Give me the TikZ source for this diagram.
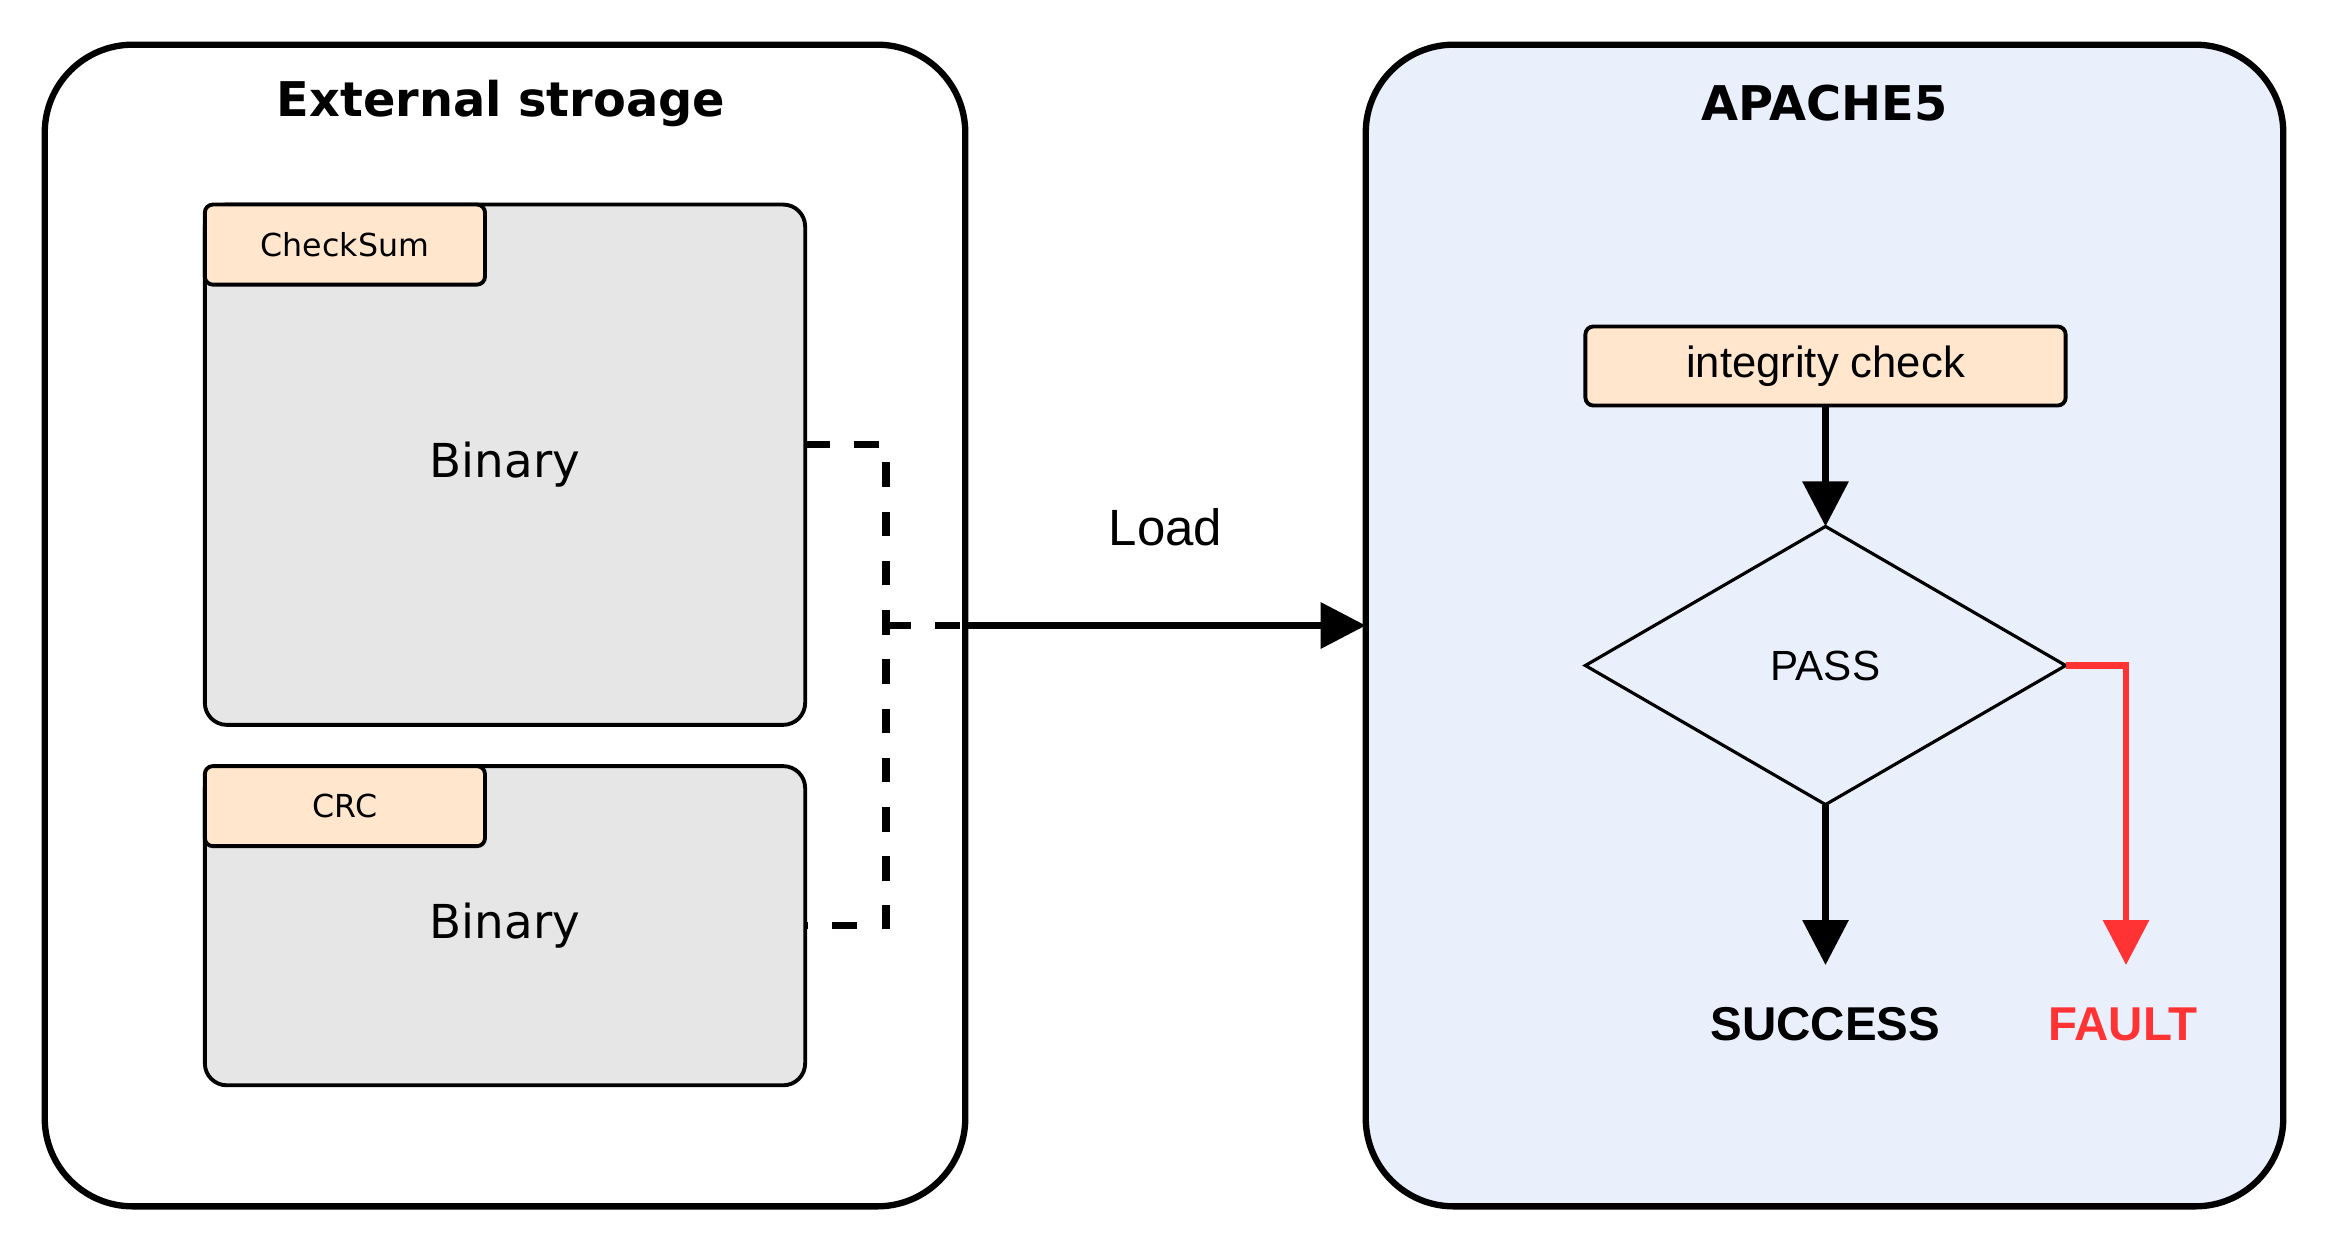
\documentclass[tikz,border=0pt]{standalone}
\usepackage{fontspec}
\setmainfont{DejaVu Sans}
\newfontfamily\arialfont{Liberation Sans}
\usetikzlibrary{arrows.meta,shapes.geometric}

\definecolor{binfill}{HTML}{E6E6E6}
\definecolor{tabfill}{HTML}{FFE6CC}
\definecolor{apachefill}{HTML}{E9F0FB}
\definecolor{faultred}{HTML}{FF3333}

\begin{document}
\begin{tikzpicture}[x=0.01cm, y=-0.01cm,
		container/.style={draw, rectangle, line width=1.8pt, rounded corners=0.88cm, minimum width=9.2cm, minimum height=11.61cm, outer sep=0pt},
		title/.style={font=\fontsize{13.6}{16}\selectfont\bfseries},
		binbox/.style={draw, rectangle, fill=binfill, line width=1.1pt, rounded corners=0.22cm, minimum width=6cm, outer sep=0pt, font=\fontsize{13.3}{16}\selectfont},
		tabbox/.style={draw, rectangle, fill=tabfill, line width=1.1pt, rounded corners=0.08cm, minimum width=2.8cm, minimum height=0.8cm, outer sep=0pt, font=\fontsize{9}{11}\selectfont},
		checkbox/.style={draw, rectangle, fill=tabfill, line width=1.1pt, rounded corners=0.08cm, minimum width=4.8cm, minimum height=0.79cm, outer sep=0pt, font=\arialfont\fontsize{12.4}{15}\selectfont},
		decision/.style={draw, diamond, line width=0.9pt, minimum width=4.8cm, minimum height=2.78cm, inner sep=0pt, outer sep=0pt, font=\arialfont\fontsize{12}{14}\selectfont},
		outcome/.style={font=\arialfont\fontsize{13.5}{16}\selectfont\bfseries},
		flow/.style={line width=1.8pt, -{Triangle[length=12.8pt,width=12.8pt]}},
		dashlink/.style={line width=2.1pt, dash pattern=on 7pt off 7pt}]
				\useasboundingbox (0,0) rectangle (2328,1248);
				
				% External storage side
				\node (storage) [container] at (505,625.5) {};
				\node (storagetitle) [title] at (501,103.5) {External stroage};
				\node (bin1) [binbox, minimum height=5.2cm] at (505,464.7) {Binary};
				\node (checksum) [tabbox, anchor=north west] at (bin1.north west) {CheckSum};
				\node (bin2) [binbox, minimum height=3.19cm] at (505,925.7) {Binary};
				\node (crc) [tabbox, anchor=north west] at (bin2.north west) {CRC};
				
				% APACHE5 side
				\node (apache) [container, fill=apachefill, minimum width=9.17cm] at (1824.5,625.5) {};
				\node (apachetitle) [title] at (1824.5,103.5) {APACHE5};
				\node (check) [checkbox] at (1825.5,366) {integrity check};
				\node (pass) [decision] at (1825.5,665.5) {PASS};
				\node (success) [outcome] at (1825.5,1024.5) {SUCCESS};
				\node (fault) [outcome, text=faultred] at (2123,1024.5) {FAULT};
				\coordinate (join) at (886,625.5);
				\coordinate (successend) at (1825.5,965);
				\coordinate (faultend) at (2126,965);
				
				% Arrows
				\draw[dashlink] ([yshift=0.2cm]bin1.east) -| (join) |- (bin2.east);
				\draw[dashlink] (join) -- (storage.east);
				\draw[flow] (storage.east) -- (apache.west) node[midway, yshift=0.98cm, font=\arialfont\fontsize{14.5}{17}\selectfont] {Load};
				\draw[flow] (check.south) -- (pass.north);
				\draw[flow] (pass.south) -- (successend);
				\draw[flow, faultred] (pass.east) -| (faultend);
				
			\end{tikzpicture}
\end{document}
